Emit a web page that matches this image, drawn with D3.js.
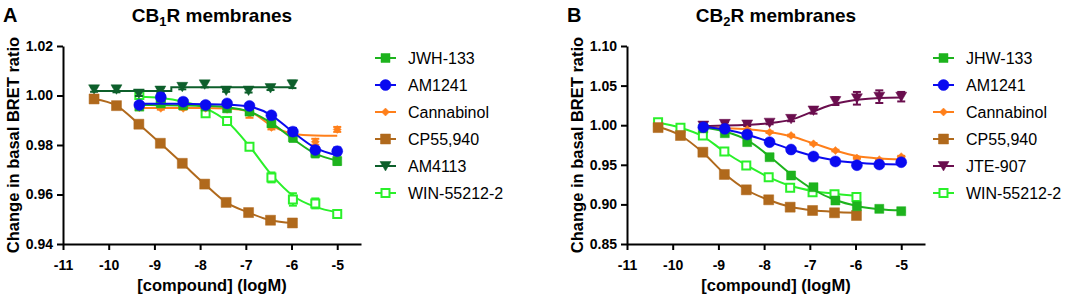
<!DOCTYPE html>
<html lang="en">
<head>
    <meta charset="UTF-8">
    <script src="https://d3js.org/d3.v7.min.js"></script>
    <style>
        body {
            margin: 0;
            background: #fff;
            font-family: Arial, "Liberation Sans", sans-serif;
        }
        .axis path, .axis line {
            stroke: #000;
            stroke-width: 2px;
        }
        .axis text {
            font-size: 14px;
            font-weight: bold;
            fill: #000;
            font-family: Arial, "Liberation Sans", sans-serif;
        }
        .legend text {
            font-size: 16px;
            fill: #000;
        }
    </style>
</head>
<body>
    <svg id="chart"></svg>

    <script>
        // doses (log M)
        const lowDoses = [-10.32, -9.83, -9.34, -8.87, -8.39, -7.9, -7.43, -6.94, -6.46, -5.98];
        const highDoses = [-9.33, -8.86, -8.37, -7.88, -7.41, -6.92, -6.44, -5.97, -5.48, -5.0];
        const xTicks = [-11, -10, -9, -8, -7, -6, -5];

        // panel A - CB1R
        const cb1Names = ["JWH-133", "AM1241", "Cannabinol", "CP55,940", "AM4113", "WIN-55212-2"];
        const cb1DoseSet = ["high", "high", "high", "low", "low", "high"];
        const cb1Means = [
            [0.9955, 0.9968, 0.996, 0.9955, 0.9948, 0.9935, 0.9888, 0.9831, 0.9768, 0.9735],
            [0.9962, 0.9993, 0.9975, 0.9962, 0.9968, 0.9958, 0.992, 0.9854, 0.978, 0.9775],
            [0.9951, 0.9948, 0.9948, 0.9948, 0.9944, 0.9925, 0.9871, 0.9838, 0.9813, 0.9863],
            [0.9986, 0.9959, 0.9884, 0.9807, 0.9726, 0.9642, 0.9568, 0.9527, 0.9496, 0.9485],
            [1.0025, 1.0025, 1.0008, 1.002, 1.0035, 1.0045, 1.002, 1.002, 1.003, 1.0045],
            [1.0002, 0.9985, 0.9965, 0.9928, 0.9897, 0.9793, 0.9669, 0.958, 0.9564, 0.9521]
        ];
        const cb1Errors = [
            [0.0008, 0.001, 0.001, 0.0012, 0.001, 0.0012, 0.0015, 0.0018, 0.0018, 0.0015],
            [0.0005, 0.0015, 0.0012, 0.0012, 0.0005, 0.0005, 0.0008, 0.0015, 0.0012, 0.0015],
            [0.0005, 0.0005, 0.0005, 0.0005, 0.0005, 0.0015, 0.0008, 0.0005, 0.0012, 0.001],
            [0.0005, 0.0005, 0.0005, 0.0005, 0.0005, 0.0005, 0.0005, 0.0005, 0.0005, 0.0005],
            [0.001, 0.0012, 0.001, 0.001, 0.001, 0.0012, 0.0005, 0.0008, 0.0008, 0.0015],
            [0.0005, 0.0005, 0.0005, 0.0005, 0.0005, 0.0012, 0.002, 0.0025, 0.002, 0.0005]
        ];
        const cb1Fits = [
            [0.9962, 0.9961, 0.996, 0.9958, 0.9953, 0.9935, 0.9888, 0.9825, 0.9765, 0.9737],
            [0.9967, 0.9967, 0.9966, 0.9965, 0.9963, 0.9955, 0.992, 0.9852, 0.9788, 0.9758],
            [0.9949, 0.9949, 0.9949, 0.9949, 0.9947, 0.9935, 0.9878, 0.9845, 0.9838, 0.9837],
            [0.9986, 0.9959, 0.9884, 0.9807, 0.9726, 0.9642, 0.9568, 0.9527, 0.9496, 0.9485],
            [1.0018, 1.0018, 1.0018, 1.0018, 1.0033, 1.0033, 1.0033, 1.0033, 1.0033, 1.0033],
            [0.9995, 0.999, 0.9975, 0.9948, 0.9895, 0.9795, 0.968, 0.9595, 0.955, 0.9528]
        ];
        const cb1Yticks = [0.94, 0.96, 0.98, 1.00, 1.02];

        // panel B - CB2R
        const cb2Names = ["JHW-133", "AM1241", "Cannabinol", "CP55,940", "JTE-907", "WIN-55212-2"];
        const cb2DoseSet = ["high", "high", "high", "low", "high", "low"];
        const cb2Means = [
            [0.996, 0.9899, 0.9786, 0.9596, 0.9365, 0.9217, 0.9049, 0.8977, 0.8944, 0.8914],
            [0.9975, 0.9954, 0.9883, 0.9786, 0.9693, 0.9605, 0.9542, 0.9495, 0.9504, 0.9533],
            [0.997, 0.996, 0.9946, 0.9912, 0.987, 0.9765, 0.968, 0.9586, 0.9565, 0.9603],
            [0.997, 0.987, 0.9659, 0.9378, 0.9184, 0.9058, 0.8965, 0.8923, 0.8894, 0.886],
            [0.9996, 1.0017, 1.001, 1.0032, 1.008, 1.0186, 1.0305, 1.034, 1.036, 1.036],
            [1.0038, 0.9967, 0.987, 0.9668, 0.9491, 0.9343, 0.921, 0.9154, 0.9128, 0.9095]
        ];
        const cb2Errors = [
            [0.001, 0.001, 0.001, 0.001, 0.001, 0.001, 0.001, 0.001, 0.001, 0.001],
            [0.001, 0.001, 0.001, 0.001, 0.001, 0.001, 0.001, 0.001, 0.001, 0.001],
            [0.001, 0.001, 0.001, 0.001, 0.001, 0.001, 0.001, 0.001, 0.001, 0.001],
            [0.001, 0.001, 0.001, 0.001, 0.001, 0.001, 0.001, 0.001, 0.001, 0.001],
            [0.002, 0.002, 0.002, 0.002, 0.003, 0.004, 0.005, 0.008, 0.008, 0.006],
            [0.001, 0.001, 0.001, 0.001, 0.001, 0.001, 0.001, 0.001, 0.001, 0.001]
        ];
        const cb2Fits = [
            [0.997, 0.992, 0.981, 0.9605, 0.938, 0.9185, 0.9055, 0.898, 0.894, 0.8925],
            [0.998, 0.9945, 0.988, 0.979, 0.9695, 0.961, 0.9555, 0.9525, 0.951, 0.9505],
            [0.9968, 0.9962, 0.9948, 0.9915, 0.986, 0.977, 0.968, 0.961, 0.958, 0.957],
            [0.998, 0.987, 0.9655, 0.939, 0.9185, 0.9055, 0.897, 0.8925, 0.8905, 0.8895],
            [0.999, 0.9995, 1.0005, 1.0025, 1.007, 1.0175, 1.027, 1.032, 1.0345, 1.035],
            [1.003, 0.9968, 0.986, 0.9665, 0.9495, 0.9345, 0.9235, 0.917, 0.9135, 0.911]
        ];
        const cb2Yticks = [0.85, 0.90, 0.95, 1.00, 1.05, 1.10];

        // styles
        const cb1Colors = ["#1db31d", "#0a0af0", "#ff7f1a", "#b0691c", "#0d5f2b", "#2af02a"];
        const cb1Shapes = ["square", "circle", "diamond", "bigsquare", "triangle", "open"];
        const cb2Colors = ["#1db31d", "#0a0af0", "#ff7f1a", "#b0691c", "#6a0e4e", "#2af02a"];
        const cb2Shapes = ["square", "circle", "diamond", "bigsquare", "triangle", "open"];
        const drawOrder = [5, 4, 3, 2, 0, 1];

        const svg = d3.select("#chart")
            .attr("width", 1065)
            .attr("height", 298);

        function markerPath(shape) {
            if (shape === "circle") return d3.symbol(d3.symbolCircle, 95)();
            if (shape === "square") return "M-4.5,-4.5H4.5V4.5H-4.5Z";
            if (shape === "bigsquare") return "M-5,-5H5V5H-5Z";
            if (shape === "open") return "M-4,-4H4V4H-4Z";
            if (shape === "diamond") return "M0,-4L4,0L0,4L-4,0Z";
            if (shape === "triangle") return "M-5.5,-4.5H5.5L0,5Z";
        }

        function drawPanel(p) {
            const g = svg.append("g");

            const x = d3.scaleLinear().domain([-11, -4.48]).range([p.left, p.left + 298]);
            const y = d3.scaleLinear().domain(p.yDomain).range([244, 46]);

            g.append("g")
                .attr("class", "axis")
                .attr("transform", "translate(0,244)")
                .call(d3.axisBottom(x).tickValues(xTicks).tickSize(6).tickSizeOuter(0).tickPadding(10)
                    .tickFormat(d => String(d)));

            g.append("g")
                .attr("class", "axis")
                .attr("transform", `translate(${p.left},0)`)
                .call(d3.axisLeft(y).tickValues(p.yTicks).tickSize(6).tickSizeOuter(0).tickPadding(4)
                    .tickFormat(d3.format(".2f")));

            // panel letter and title
            g.append("text")
                .attr("x", p.left - 60)
                .attr("y", 22)
                .attr("font-size", 20)
                .attr("font-weight", "bold")
                .text(p.letter);

            const title = g.append("text")
                .attr("x", p.left + 149)
                .attr("y", 22)
                .attr("text-anchor", "middle")
                .attr("font-size", 19)
                .attr("font-weight", "bold");
            title.append("tspan").text("CB");
            title.append("tspan").attr("font-size", 13).attr("dy", 4).text(p.sub);
            title.append("tspan").attr("dy", -4).text("R membranes");

            g.append("text")
                .attr("transform", `translate(${p.left - 44},145) rotate(-90)`)
                .attr("text-anchor", "middle")
                .attr("font-size", 16.5)
                .attr("font-weight", "bold")
                .text("Change in basal BRET ratio");

            g.append("text")
                .attr("x", p.left + 149)
                .attr("y", 291)
                .attr("text-anchor", "middle")
                .attr("font-size", 16.5)
                .attr("font-weight", "bold")
                .text("[compound] (logM)");

            const series = p.names.map((name, i) => {
                const doses = p.doseSet[i] === "low" ? lowDoses : highDoses;
                return {
                    name,
                    color: p.colors[i],
                    shape: p.shapes[i],
                    curve: p.stepIndex === i ? d3.curveStep : d3.curveMonotoneX,
                    points: doses.map((d, j) => ({ x: d, m: p.means[i][j], e: p.errors[i][j] })),
                    fit: doses.map((d, j) => ({ x: d, m: p.fits[i][j] }))
                };
            });

            drawOrder.forEach(i => {
                const s = series[i];
                const sg = g.append("g");

                sg.append("path")
                    .datum(s.fit)
                    .attr("fill", "none")
                    .attr("stroke", s.color)
                    .attr("stroke-width", 2)
                    .attr("d", d3.line().x(d => x(d.x)).y(d => y(d.m)).curve(s.curve));

                const eb = sg.selectAll(".eb")
                    .data(s.points)
                    .enter()
                    .append("g")
                    .attr("stroke", s.color)
                    .attr("stroke-width", 2);
                eb.append("line")
                    .attr("x1", d => x(d.x)).attr("x2", d => x(d.x))
                    .attr("y1", d => y(d.m - d.e)).attr("y2", d => y(d.m + d.e));
                eb.append("line")
                    .attr("x1", d => x(d.x) - 4).attr("x2", d => x(d.x) + 4)
                    .attr("y1", d => y(d.m - d.e)).attr("y2", d => y(d.m - d.e));
                eb.append("line")
                    .attr("x1", d => x(d.x) - 4).attr("x2", d => x(d.x) + 4)
                    .attr("y1", d => y(d.m + d.e)).attr("y2", d => y(d.m + d.e));

                sg.selectAll(".pt")
                    .data(s.points)
                    .enter()
                    .append("path")
                    .attr("transform", d => `translate(${x(d.x)},${y(d.m)})`)
                    .attr("d", markerPath(s.shape))
                    .attr("fill", s.shape === "open" ? "#fff" : s.color)
                    .attr("stroke", s.color)
                    .attr("stroke-width", s.shape === "open" ? 2 : 0.5);
            });

            // legend
            const lg = g.append("g").attr("class", "legend");
            series.forEach((s, i) => {
                const ly = 58 + i * 27;
                const row = lg.append("g");
                row.append("line")
                    .attr("x1", p.legendX).attr("x2", p.legendX + 21)
                    .attr("y1", ly).attr("y2", ly)
                    .attr("stroke", s.color).attr("stroke-width", 2);
                row.append("path")
                    .attr("transform", `translate(${p.legendX + 10.5},${ly})`)
                    .attr("d", markerPath(s.shape))
                    .attr("fill", s.shape === "open" ? "#fff" : s.color)
                    .attr("stroke", s.color)
                    .attr("stroke-width", s.shape === "open" ? 2 : 0.5);
                row.append("text")
                    .attr("x", p.legendX + 33)
                    .attr("y", ly)
                    .attr("dy", "0.35em")
                    .text(s.name);
            });
        }

        drawPanel({
            left: 63, letter: "A", sub: "1", yDomain: [0.94, 1.02], yTicks: cb1Yticks,
            names: cb1Names, doseSet: cb1DoseSet, means: cb1Means, errors: cb1Errors, fits: cb1Fits,
            colors: cb1Colors, shapes: cb1Shapes, stepIndex: 4, legendX: 375
        });

        drawPanel({
            left: 627, letter: "B", sub: "2", yDomain: [0.85, 1.10], yTicks: cb2Yticks,
            names: cb2Names, doseSet: cb2DoseSet, means: cb2Means, errors: cb2Errors, fits: cb2Fits,
            colors: cb2Colors, shapes: cb2Shapes, stepIndex: -1, legendX: 933
        });
    </script>
</body>
</html>
